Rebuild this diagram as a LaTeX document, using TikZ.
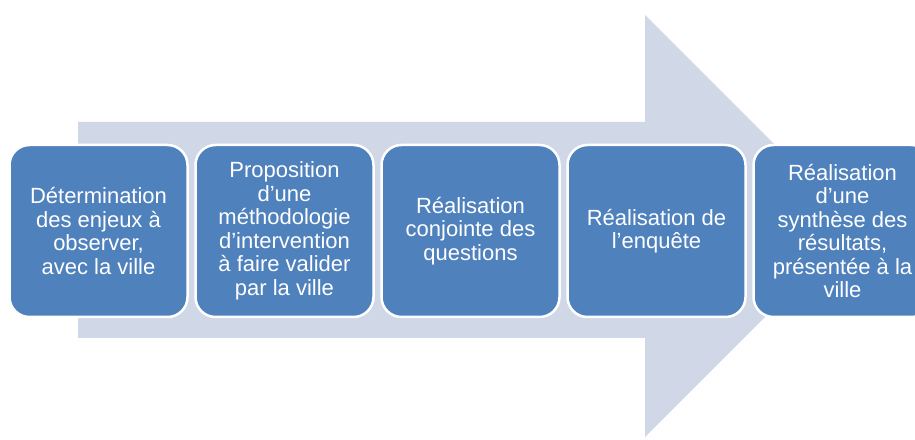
\documentclass[tikz,border=0pt]{standalone}
\usepackage{fontspec}
\setmainfont{Liberation Sans}
\usetikzlibrary{positioning}
\definecolor{etapeBleu}{HTML}{4F81BD}
\definecolor{flecheGris}{HTML}{D0D8E8}
\tikzset{
  etape/.style={draw=white, line width=2.5pt, fill=etapeBleu,
    rounded corners=20pt, minimum width=178pt, minimum height=172pt,
    inner sep=0pt, outer sep=0pt, text=white, align=center,
    font=\fontsize{22}{23.5}\selectfont},
  fleche/.style={fill=flecheGris}
}

\begin{document}
\begin{tikzpicture}[x=1pt, y=1pt]
\useasboundingbox (0,0) rectangle (915,439);
\clip (0,0) rectangle (915,439);

% la grande fleche du fond
\fill[fleche] (78,101) -- (645,101) -- (645,2) -- (856,213)
  -- (645,424) -- (645,317) -- (78,317) -- cycle;

% les etapes
\node[etape] (e1) at (98.5,208) {Détermination\\des enjeux à\\observer,\\avec la ville};
\node[etape, right=8pt of e1] (e2) {Proposition\\d’une\\méthodologie\\d’intervention\\à faire valider\\par la ville};
\node[etape, right=8pt of e2] (e3) {Réalisation\\conjointe des\\questions};
\node[etape, right=8pt of e3] (e4) {Réalisation de\\l’enquête};
\node[etape, right=8pt of e4] (e5) {Réalisation\\d’une\\synthèse des\\résultats,\\présentée à la\\ville};

\end{tikzpicture}
\end{document}
